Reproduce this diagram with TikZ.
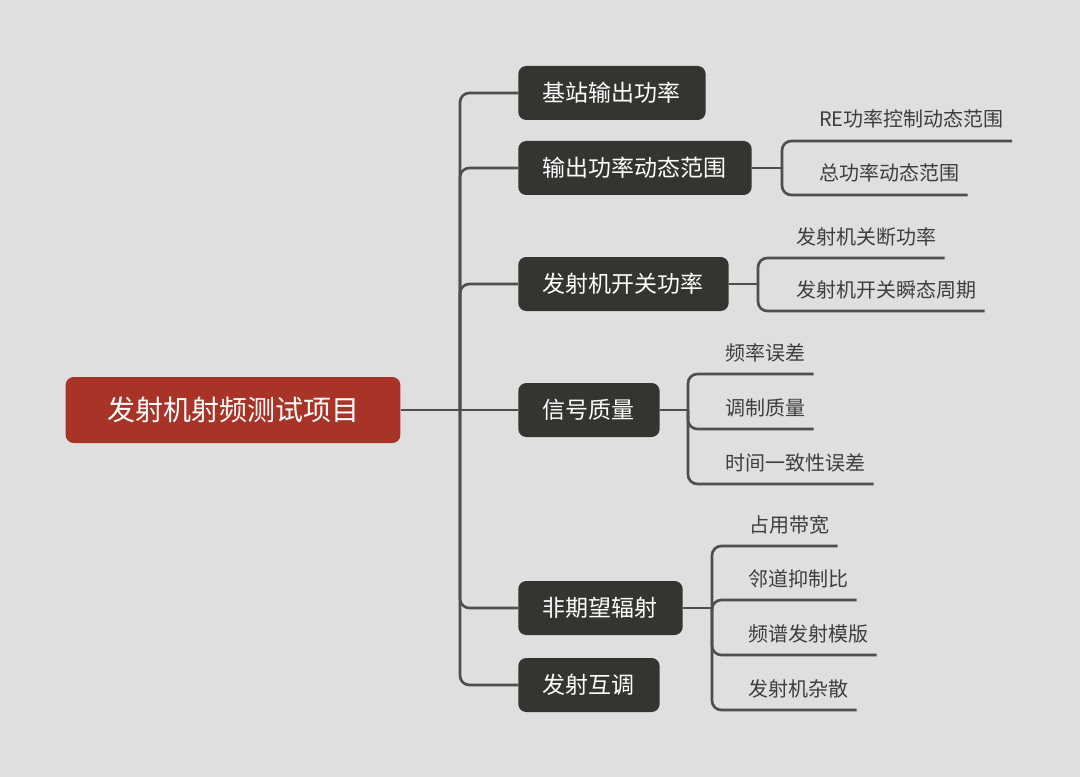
\documentclass[tikz,border=0pt]{standalone}
\usepackage{fontspec}
\newfontfamily\cjk{Noto Sans CJK SC}
\usetikzlibrary{positioning}
\definecolor{mapbg}{RGB}{223,223,223}
\definecolor{rootred}{RGB}{168,52,40}
\definecolor{topicdark}{RGB}{52,52,49}
\definecolor{branchgray}{RGB}{78,78,78}
\definecolor{leafgray}{RGB}{62,62,62}

\begin{document}
\begin{tikzpicture}[
    x=0.75pt,y=-0.75pt,
    root/.style={rectangle,rounded corners=6pt,fill=rootred,text=white,
      font=\cjk\fontsize{21}{25}\selectfont,inner xsep=31pt,minimum height=49.5pt},
    topic/.style={rectangle,rounded corners=6pt,fill=topicdark,text=white,anchor=west,
      font=\cjk\fontsize{17.25}{20}\selectfont,inner xsep=18.5pt,minimum height=40.5pt},
    leaf/.style={inner sep=0pt,anchor=base west,text=leafgray,
      font=\cjk\fontsize{15}{18}\selectfont},
    branch/.style={draw=branchgray,line width=2pt,rounded corners=7pt}
  ]
    \fill[mapbg] (0,0) rectangle (1080,777);
    \useasboundingbox (0,0) rectangle (1080,777);

    \node[root] (root) at (233,410) {发射机射频测试项目};

    \node[topic] (power) at (518,93) {基站输出功率};
    \node[topic] (dynrange) at (518,168) {输出功率动态范围};
    \node[topic] (onoff) at (518,284) {发射机开关功率};
    \node[topic] (quality) at (518,410) {信号质量};
    \node[topic] (unwanted) at (518,608) {非期望辐射};
    \node[topic] (intermod) at (518,685) {发射互调};

    \coordinate (trunk) at (460,410);
    \draw[branch] (root) -- (trunk) -- (quality);
    \foreach \topic in {power,dynrange,onoff,unwanted,intermod}
      \draw[branch] (trunk) |- (\topic);

    % output power dynamic range
    \coordinate (dr-j) at (782,168);
    \node[leaf] (dr-re) at (819,127) {RE功率控制动态范围};
    \node[leaf] (dr-total) at (819,181) {总功率动态范围};
    \draw[branch] (dynrange) -- (dr-j);
    \foreach \leaf in {dr-re,dr-total}
      \draw[branch] (dr-j) |- ([shift={(6pt,-10.5pt)}]\leaf.base east);

    % transmitter on/off power
    \coordinate (oo-j) at (758,284);
    \node[leaf] (oo-off) at (796,244) {发射机关断功率};
    \node[leaf] (oo-trans) at (796,297) {发射机开关瞬态周期};
    \draw[branch] (onoff) -- (oo-j);
    \foreach \leaf in {oo-off,oo-trans}
      \draw[branch] (oo-j) |- ([shift={(6pt,-10.5pt)}]\leaf.base east);

    % signal quality
    \coordinate (sq-j) at (688,410);
    \node[leaf] (sq-freq) at (725,360) {频率误差};
    \node[leaf] (sq-mod) at (725,415) {调制质量};
    \node[leaf] (sq-time) at (725,470) {时间一致性误差};
    \draw[branch] (quality) -- (sq-j);
    \foreach \leaf in {sq-freq,sq-mod,sq-time}
      \draw[branch] (sq-j) |- ([shift={(6pt,-10.5pt)}]\leaf.base east);

    % unwanted emissions
    \coordinate (ue-j) at (712,608);
    \node[leaf] (ue-obw) at (749,532) {占用带宽};
    \node[leaf] (ue-aclr) at (748,586) {邻道抑制比};
    \node[leaf] (ue-sem) at (748,641) {频谱发射模版};
    \node[leaf] (ue-spur) at (748,696) {发射机杂散};
    \draw[branch] (unwanted) -- (ue-j);
    \foreach \leaf in {ue-obw,ue-aclr,ue-sem,ue-spur}
      \draw[branch] (ue-j) |- ([shift={(6pt,-10.5pt)}]\leaf.base east);
  \end{tikzpicture}
\end{document}
